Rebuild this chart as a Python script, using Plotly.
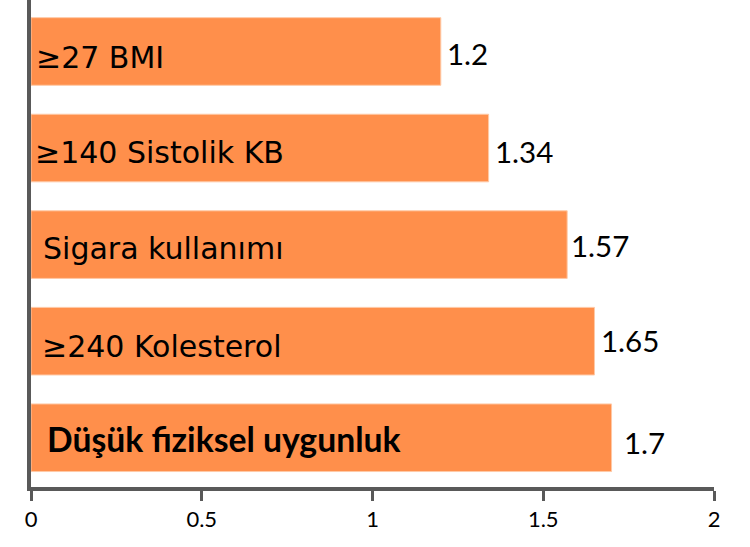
import plotly.graph_objects as go

categories = ["Düşük fiziksel uygunluk", "≥240 Kolesterol", "Sigara kullanımı",
              "≥140 Sistolik KB", "≥27 BMI"]
values = [1.7, 1.65, 1.57, 1.34, 1.2]
value_labels = ["1.7", "1.65", "1.57", "1.34", "1.2"]
tick_vals = [0, 0.5, 1, 1.5, 2]
tick_text = ["0", "0.5", "1", "1.5", "2"]

BAR = "#FF8F4B"
AXIS = "#595959"

fig = go.Figure(go.Bar(
    x=values, y=categories, orientation="h",
    marker=dict(color=BAR, line=dict(color="#FFC9A6", width=1)),
    hoverinfo="skip",
))

label_xshift = [14, 9, 10, 2, 3]
label_yshift = [-1, -5, -4, -4, -6]
label_bold = [True, False, False, False, False]
value_xshift = [10, 5, 2, 4, 4]
value_yshift = [-5, 1, -1, -3, -2]

ann = []
for i, (c, v, t) in enumerate(zip(categories, values, value_labels)):
    if label_bold[i]:
        txt = f"<b>{c}</b>"
        lfont = dict(family="Lato", size=33.7, color="black")
    else:
        txt = c
        lfont = dict(family="DejaVu Sans", size=30, color="black")
    ann.append(dict(x=0, y=c, xref="x", yref="y", text=txt, showarrow=False,
                    xanchor="left", yanchor="middle",
                    xshift=label_xshift[i], yshift=label_yshift[i],
                    font=lfont))
    ann.append(dict(x=v, y=c, xref="x", yref="y", text=t, showarrow=False,
                    xanchor="left", yanchor="middle",
                    xshift=value_xshift[i], yshift=value_yshift[i],
                    font=dict(family="Lato", size=29.5, color="black")))

fig.update_layout(
    width=750, height=547,
    margin=dict(l=31, r=36, t=0, b=60),
    paper_bgcolor="white", plot_bgcolor="white",
    bargap=0.30, showlegend=False,
    annotations=ann,
    font=dict(family="Lato", color="black"),
    xaxis=dict(range=[0, 2], tickvals=tick_vals, ticktext=tick_text,
               showgrid=False, zeroline=False, showline=True,
               linecolor=AXIS, linewidth=4, ticks="outside", ticklen=10,
               tickwidth=2.5, tickcolor=AXIS,
               tickfont=dict(family="Lato", size=22, color="black")),
    yaxis=dict(range=[-0.51, 4.533], showticklabels=False, showgrid=False,
               zeroline=False, showline=True, linecolor=AXIS, linewidth=4,
               ticks=""),
)

fig.write_html("out.html", config={"displayModeBar": False},
               post_script="document.body.style.margin='0';document.body.style.padding='0';")
